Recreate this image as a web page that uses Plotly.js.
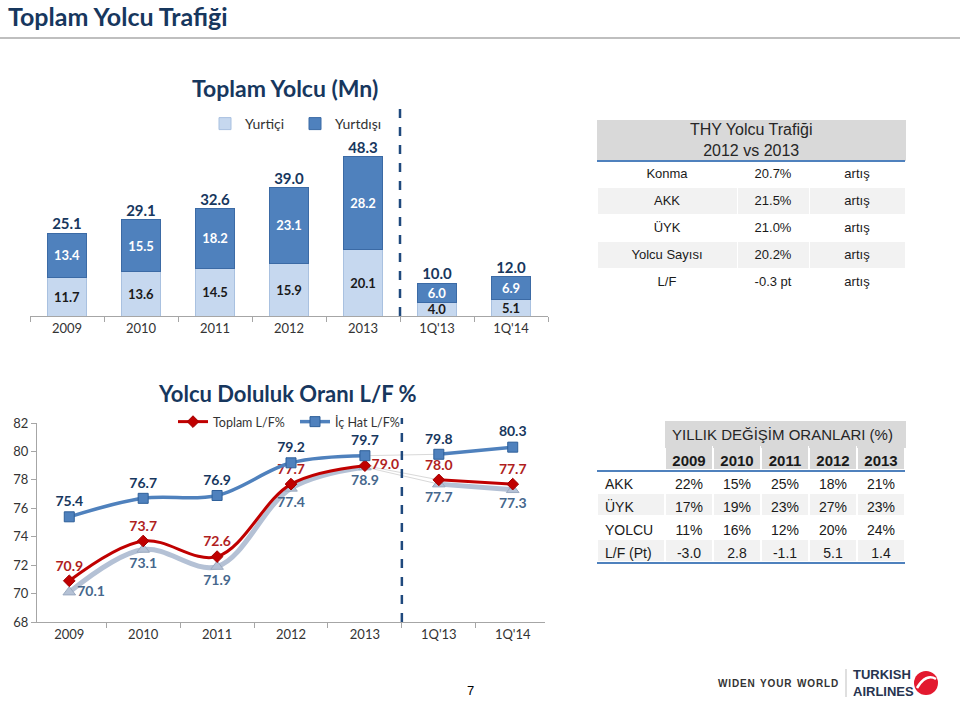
<!DOCTYPE html>
<html>
<head>
<meta charset="utf-8">
<script src="https://cdn.plot.ly/plotly-3.0.1.min.js"></script>
<style>html,body{margin:0;padding:0;background:#fff;}#chart{width:960px;height:701px;}</style>
</head>
<body>
<div id="chart"></div>
<script>
// ---------- data ----------
var categories = ["2009", "2010", "2011", "2012", "2013", "1Q'13", "1Q'14"];
var yurtici = [11.7, 13.6, 14.5, 15.9, 20.1, 4.0, 5.1];
var yurtdisi = [13.4, 15.5, 18.2, 23.1, 28.2, 6.0, 6.9];
var toplamYolcu = [25.1, 29.1, 32.6, 39.0, 48.3, 10.0, 12.0];

var toplamLF = [70.9, 73.7, 72.6, 77.7, 79.0, 78.0, 77.7];
var icHatLF = [75.4, 76.7, 76.9, 79.2, 79.7, 79.8, 80.3];
var disHatLF = [70.1, 73.1, 71.9, 77.4, 78.9, 77.7, 77.3];

var thyTitle = "THY Yolcu Trafiği<br>2012 vs 2013";
var thyItems = ["Konma", "AKK", "ÜYK", "Yolcu Sayısı", "L/F"];
var thyValues = ["20.7%", "21.5%", "21.0%", "20.2%", "-0.3 pt"];
var thyNote = ["artış", "artış", "artış", "artış", "artış"];

var yillikTitle = "YILLIK DEĞİŞİM ORANLARI (%)";
var yillikYears = ["2009", "2010", "2011", "2012", "2013"];
var yillikRows = ["AKK", "ÜYK", "YOLCU", "L/F (Pt)"];
var yillik2009 = ["22%", "17%", "11%", "-3.0"];
var yillik2010 = ["15%", "19%", "16%", "2.8"];
var yillik2011 = ["25%", "23%", "12%", "-1.1"];
var yillik2012 = ["18%", "27%", "20%", "5.1"];
var yillik2013 = ["21%", "23%", "24%", "1.4"];

// ---------- helpers ----------
var W = 960, H = 701;
function px(x) { return x / W; }
function py(y) { return 1 - y / H; }
var LATO = "Lato, 'Open Sans', sans-serif";
var ARIAL = "'Liberation Sans', Arial, sans-serif";
var NAVY = "#17375E";

var yearIdx = [0, 1, 2, 3, 4], qIdx = [5, 6];
function pick(arr, idx) { return idx.map(function (i) { return arr[i]; }); }

var traces = [];

// ---------- bar chart ----------
traces.push({
  type: "bar", name: "Yurtiçi", x: categories, y: yurtici,
  xaxis: "x", yaxis: "y", legend: "legend",
  marker: { color: "#C6D8EF", line: { color: "#A9C1E0", width: 1 } },
  texttemplate: "<b>%{y:.1f}</b>", textposition: "inside", insidetextanchor: "middle",
  constraintext: "none", textfont: { family: LATO, size: 13, color: "#1a1a1a" },
  hoverinfo: "skip"
});
traces.push({
  type: "bar", name: "Yurtdışı", x: categories, y: yurtdisi,
  xaxis: "x", yaxis: "y", legend: "legend",
  marker: { color: "#4F81BD", line: { color: "#3B6AA5", width: 1 } },
  texttemplate: "<b>%{y:.1f}</b>", textposition: "inside", insidetextanchor: "middle",
  constraintext: "none", textfont: { family: LATO, size: 13, color: "#ffffff" },
  hoverinfo: "skip"
});
traces.push({
  type: "scatter", mode: "text", x: categories, y: toplamYolcu,
  xaxis: "x", yaxis: "y", showlegend: false, cliponaxis: false,
  texttemplate: "<b>%{y:.1f}</b>", textposition: "top center",
  textfont: { family: LATO, size: 15, color: NAVY }, hoverinfo: "skip"
});

// ---------- line chart ----------
function lineSeries(vals, name, color, width, symbol, msize, mline, tcolor, tposYears, tposQ, legendOn) {
  traces.push({
    type: "scatter", mode: "lines", x: pick(categories, [4, 5]), y: pick(vals, [4, 5]),
    xaxis: "x2", yaxis: "y2", showlegend: false, hoverinfo: "skip",
    line: { color: "#D9D9D9", width: 1 }
  });
  [[yearIdx, tposYears, legendOn], [qIdx, tposQ, false]].forEach(function (seg) {
    traces.push({
      type: "scatter", mode: "lines+markers+text", name: name,
      x: pick(categories, seg[0]), y: pick(vals, seg[0]),
      xaxis: "x2", yaxis: "y2", legend: "legend2", showlegend: seg[2], cliponaxis: false,
      line: { color: color, width: width, shape: "spline", smoothing: 1 },
      marker: { symbol: symbol, size: msize, color: color, line: { color: mline, width: 1 } },
      texttemplate: "<b>%{y:.1f}</b>", textposition: seg[1],
      textfont: { family: LATO, size: 14, color: tcolor }, hoverinfo: "skip"
    });
  });
}
lineSeries(disHatLF, "Dış Hat L/F%", "#B4C1D5", 5, "triangle-up", 11, "#9AA9BF", "#46678C",
  ["middle right", "bottom center", "bottom center", "bottom center", "bottom center"],
  ["bottom center", "bottom center"], false);
lineSeries(toplamLF, "Toplam L/F%", "#C00000", 3, "diamond", 9, "#A00000", "#B01E1E",
  ["top center", "top center", "top center", "top center", "middle right"],
  ["top center", "top center"], true);
lineSeries(icHatLF, "İç Hat L/F%", "#4F81BD", 3.5, "square", 10, "#2E5F99", NAVY,
  ["top center", "top center", "top center", "top center", "top center"],
  ["top center", "top center"], true);

// ---------- tables ----------
var thyFill = thyItems.map(function (_, i) { return i % 2 === 0 ? "#FFFFFF" : "#F2F2F2"; });
traces.push({
  type: "table", domain: { x: [px(597), px(905)], y: [py(300), py(120)] },
  columnwidth: [140, 72, 96],
  header: { values: ["", "", ""], height: 40, align: "center",
    fill: { color: "#D9D9D9" }, line: { color: "#D9D9D9", width: 1 },
    font: { family: ARIAL, size: 14, color: "#262626" } },
  cells: { values: [thyItems, thyValues, thyNote], height: 27, align: "center",
    fill: { color: [thyFill] }, line: { color: "#FFFFFF", width: 1 },
    font: { family: ARIAL, size: 13, color: "#1a1a1a" } }
});

// yearly table: first cell row holds the year labels
var yCols = [yillik2009, yillik2010, yillik2011, yillik2012, yillik2013];
var rowFill = yillikRows.map(function (_, i) { return i % 2 === 0 ? "#FFFFFF" : "#F2F2F2"; });
var yValues = [[""].concat(yillikRows)].concat(yCols.map(function (col, j) {
  return [yillikYears[j]].concat(col);
}));
var yFills = [["#FFFFFF"].concat(rowFill)].concat(yCols.map(function () {
  return ["#D9D9D9"].concat(rowFill);
}));
var ySizes = [[14, 14, 14, 14, 14]].concat(yCols.map(function () { return [15, 14, 14, 14, 14]; }));
var yWeights = [["normal", "normal", "normal", "normal", "normal"]].concat(yCols.map(function () {
  return ["bold", "normal", "normal", "normal", "normal"];
}));
traces.push({
  type: "table", domain: { x: [px(597), px(905)], y: [py(566), py(421)] },
  columnwidth: [68, 48, 48, 48, 48, 48],
  header: { values: ["", "", "", "", "", ""], height: 26,
    fill: { color: ["#FFFFFF", "#D9D9D9", "#D9D9D9", "#D9D9D9", "#D9D9D9", "#D9D9D9"] },
    line: { color: ["#FFFFFF", "#D9D9D9", "#D9D9D9", "#D9D9D9", "#D9D9D9", "#D9D9D9"], width: 1 },
    font: { family: ARIAL, size: 14, color: "#262626" } },
  cells: { values: yValues, height: 23,
    align: ["left", "center", "center", "center", "center", "center"],
    fill: { color: yFills }, line: { color: "#FFFFFF", width: 2 },
    font: { family: ARIAL, size: ySizes, weight: yWeights, color: "#1a1a1a" } }
});

// ---------- layout ----------
var axisCommon = {
  type: "category", categoryorder: "array", categoryarray: categories,
  showline: true, linecolor: "#A6A6A6", linewidth: 1, ticks: "outside", tickson: "boundaries",
  ticklen: 5, tickcolor: "#A6A6A6", showgrid: false, zeroline: false,
  tickfont: { family: LATO, size: 13, color: "#333333" }, fixedrange: true
};
var layout = {
  width: W, height: H, margin: { l: 0, r: 0, t: 0, b: 0 },
  paper_bgcolor: "#ffffff", plot_bgcolor: "rgba(0,0,0,0)",
  font: { family: LATO }, barmode: "stack", bargap: 0.46,
  xaxis: Object.assign({}, axisCommon, { domain: [px(30), px(548)], anchor: "y" }),
  yaxis: { domain: [py(316), py(120)], range: [0, 59.4], visible: false, fixedrange: true },
  xaxis2: Object.assign({}, axisCommon, { domain: [px(37), px(545)], anchor: "y2" }),
  yaxis2: { domain: [py(622), py(423)], range: [68, 82], dtick: 2, showline: true,
    linecolor: "#A6A6A6", ticks: "outside", ticklen: 5, tickcolor: "#A6A6A6",
    showgrid: false, zeroline: false, anchor: "x2",
    tickfont: { family: LATO, size: 13, color: "#333333" }, fixedrange: true },
  legend: { orientation: "h", x: px(205), y: py(124), xanchor: "left", yanchor: "middle",
    font: { family: LATO, size: 14, color: "#333333" }, bgcolor: "rgba(0,0,0,0)",
    itemwidth: 30, entrywidth: 45, entrywidthmode: "pixels", traceorder: "normal" },
  legend2: { orientation: "h", x: px(173), y: py(422), xanchor: "left", yanchor: "middle",
    font: { family: LATO, size: 12.5, color: "#333333" }, bgcolor: "rgba(0,0,0,0)",
    itemwidth: 30, entrywidth: 77, entrywidthmode: "pixels", traceorder: "normal" },
  shapes: [
    { type: "line", xref: "paper", yref: "paper", x0: 0, x1: 1, y0: py(38), y1: py(38),
      line: { color: "#BFBFBF", width: 2 } },
    { type: "line", xref: "x", yref: "paper", x0: 4.5, x1: 4.5, y0: py(316), y1: py(104),
      line: { color: "#1F497D", width: 2.5, dash: "dash" } },
    { type: "line", xref: "x2", yref: "paper", x0: 4.5, x1: 4.5, y0: py(622), y1: py(418),
      line: { color: "#1F497D", width: 2.5, dash: "dash" } },
    { type: "line", xref: "paper", yref: "paper", x0: px(597), x1: px(905), y0: py(161), y1: py(161),
      line: { color: "#4F81BD", width: 2 } },
    { type: "line", xref: "paper", yref: "paper", x0: px(597), x1: px(905), y0: py(471), y1: py(471),
      line: { color: "#4F81BD", width: 2 } },
    { type: "line", xref: "paper", yref: "paper", x0: px(597), x1: px(905), y0: py(563), y1: py(563),
      line: { color: "#4F81BD", width: 2 } },
    { type: "line", xref: "paper", yref: "paper", x0: px(846), x1: px(846), y0: py(697), y1: py(669),
      line: { color: "#BFBFBF", width: 1 } },
    { type: "circle", xref: "paper", yref: "paper", x0: px(914), x1: px(938), y0: py(695), y1: py(671),
      fillcolor: "#E3192F", line: { color: "#E3192F", width: 0 } },
    { type: "path", xref: "paper", yref: "paper",
      path: "M " + px(917) + " " + py(688) + " Q " + px(926) + " " + py(673) + " " + px(936) + " " + py(679),
      line: { color: "#FFFFFF", width: 2.5 } }
  ],
  annotations: [
    { text: "<b>Toplam Yolcu Trafiği</b>", xref: "paper", yref: "paper", x: px(7), y: 1,
      xanchor: "left", yanchor: "top", showarrow: false, borderpad: 0,
      font: { family: LATO, size: 25, color: NAVY } },
    { text: "<b>Toplam Yolcu (Mn)</b>", xref: "paper", yref: "paper", x: px(285), y: py(88),
      xanchor: "center", yanchor: "middle", showarrow: false,
      font: { family: LATO, size: 23, color: NAVY } },
    { text: "<b>Yolcu Doluluk Oranı L/F %</b>", xref: "paper", yref: "paper", x: px(287), y: py(393),
      xanchor: "center", yanchor: "middle", showarrow: false,
      font: { family: LATO, size: 22, color: NAVY } },
    { text: thyTitle, xref: "paper", yref: "paper", x: px(751), y: py(140),
      xanchor: "center", yanchor: "middle", showarrow: false,
      font: { family: ARIAL, size: 16, color: "#262626" } },
    { text: yillikTitle, xref: "paper", yref: "paper", x: px(782), y: py(434),
      xanchor: "center", yanchor: "middle", showarrow: false,
      font: { family: ARIAL, size: 15, color: "#262626" } },
    { text: "7", xref: "paper", yref: "paper", x: px(470), y: py(690),
      xanchor: "center", yanchor: "middle", showarrow: false,
      font: { family: ARIAL, size: 13, color: "#000000" } },
    { text: "<b>W\u200AI\u200AD\u200AE\u200AN  Y\u200AO\u200AU\u200AR  W\u200AO\u200AR\u200AL\u200AD</b>", xref: "paper", yref: "paper", x: px(778), y: py(683),
      xanchor: "center", yanchor: "middle", showarrow: false,
      font: { family: ARIAL, size: 10, color: "#333333" } },
    { text: "<b>TURKISH<br>AIRLINES</b>", xref: "paper", yref: "paper", x: px(851), y: py(683),
      xanchor: "left", yanchor: "middle", showarrow: false, align: "left",
      font: { family: ARIAL, size: 13, color: "#27344F" } }
  ]
};

Plotly.newPlot("chart", traces, layout, { staticPlot: true, displayModeBar: false });
</script>
</body>
</html>
